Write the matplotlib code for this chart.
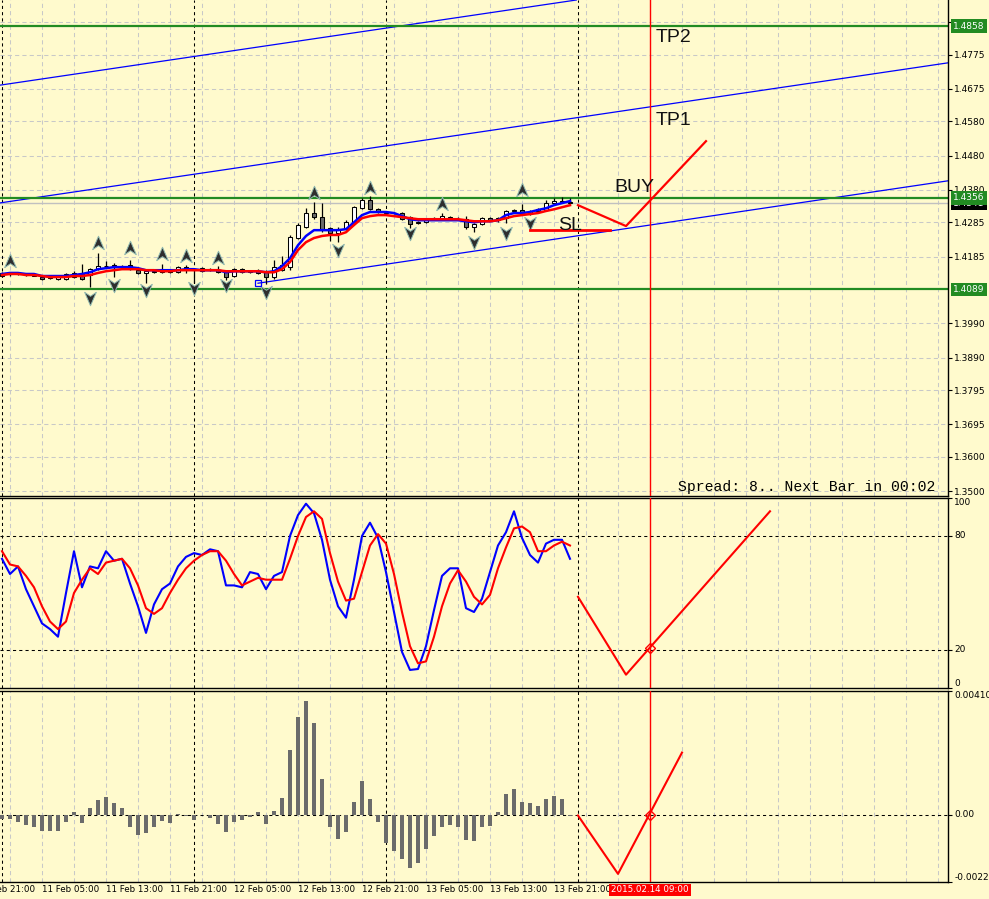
import matplotlib
matplotlib.use("Agg")
import matplotlib.pyplot as plt
import numpy as np
from matplotlib.path import Path
from matplotlib.transforms import blended_transform_factory

# ---- data (hours counted from 11 Feb 00:00, H1 bars) ----
opens = [1.4128, 1.4134, 1.4136, 1.4133, 1.4130, 1.4125, 1.4121, 1.4119, 1.4120, 1.4125,
         1.4134, 1.4131, 1.4148, 1.4157, 1.4160, 1.4154, 1.4160, 1.4145, 1.4138, 1.4143,
         1.4140, 1.4143, 1.4140, 1.4154, 1.4149, 1.4143, 1.4150, 1.4146, 1.4140, 1.4128,
         1.4148, 1.4141, 1.4143, 1.4143, 1.4125, 1.4146, 1.4154, 1.4239, 1.4271, 1.4312,
         1.4300, 1.4268, 1.4254, 1.4265, 1.4286, 1.4327, 1.4350, 1.4324, 1.4315, 1.4312,
         1.4312, 1.4300, 1.4283, 1.4286, 1.4294, 1.4297, 1.4300, 1.4294, 1.4294, 1.4271,
         1.4280, 1.4297, 1.4291, 1.4297, 1.4318, 1.4321, 1.4309, 1.4318, 1.4321, 1.4341,
         1.4347, 1.4344]
highs = [1.4140, 1.4140, 1.4138, 1.4135, 1.4133, 1.4128, 1.4127, 1.4128, 1.4137, 1.4143,
         1.4163, 1.4151, 1.4195, 1.4172, 1.4166, 1.4160, 1.4175, 1.4148, 1.4146, 1.4146,
         1.4163, 1.4145, 1.4157, 1.4160, 1.4152, 1.4154, 1.4152, 1.4157, 1.4143, 1.4151,
         1.4151, 1.4146, 1.4148, 1.4146, 1.4175, 1.4186, 1.4248, 1.4283, 1.4327, 1.4344,
         1.4341, 1.4271, 1.4271, 1.4292, 1.4333, 1.4356, 1.4362, 1.4327, 1.4318, 1.4316,
         1.4315, 1.4303, 1.4289, 1.4297, 1.4300, 1.4312, 1.4303, 1.4300, 1.4303, 1.4283,
         1.4300, 1.4300, 1.4300, 1.4321, 1.4324, 1.4338, 1.4321, 1.4327, 1.4350, 1.4356,
         1.4359, 1.4356]
lows = [1.4125, 1.4128, 1.4131, 1.4128, 1.4127, 1.4117, 1.4118, 1.4116, 1.4117, 1.4122,
        1.4116, 1.4096, 1.4145, 1.4154, 1.4125, 1.4150, 1.4145, 1.4135, 1.4108, 1.4138,
        1.4137, 1.4137, 1.4137, 1.4137, 1.4107, 1.4140, 1.4144, 1.4137, 1.4116, 1.4125,
        1.4137, 1.4137, 1.4134, 1.4104, 1.4120, 1.4143, 1.4146, 1.4236, 1.4268, 1.4294,
        1.4256, 1.4230, 1.4227, 1.4262, 1.4283, 1.4324, 1.4321, 1.4312, 1.4309, 1.4308,
        1.4292, 1.4268, 1.4280, 1.4283, 1.4291, 1.4294, 1.4291, 1.4291, 1.4265, 1.4256,
        1.4277, 1.4288, 1.4286, 1.4283, 1.4312, 1.4306, 1.4306, 1.4315, 1.4318, 1.4338,
        1.4341, 1.4338]
closes = [1.4137, 1.4136, 1.4134, 1.4130, 1.4129, 1.4120, 1.4124, 1.4125, 1.4134, 1.4137,
          1.4119, 1.4148, 1.4157, 1.4158, 1.4154, 1.4157, 1.4148, 1.4138, 1.4143, 1.4140,
          1.4143, 1.4140, 1.4154, 1.4149, 1.4146, 1.4151, 1.4147, 1.4140, 1.4125, 1.4148,
          1.4140, 1.4143, 1.4137, 1.4125, 1.4154, 1.4160, 1.4242, 1.4277, 1.4312, 1.4300,
          1.4265, 1.4253, 1.4266, 1.4286, 1.4329, 1.4350, 1.4324, 1.4315, 1.4312, 1.4313,
          1.4295, 1.4280, 1.4286, 1.4294, 1.4297, 1.4303, 1.4294, 1.4296, 1.4271, 1.4280,
          1.4297, 1.4291, 1.4297, 1.4318, 1.4321, 1.4309, 1.4318, 1.4324, 1.4341, 1.4347,
          1.4344, 1.4341]

ma_fast = [1.4134, 1.4137, 1.4137, 1.4134, 1.4134, 1.4128, 1.4128, 1.4128, 1.4128, 1.4131,
           1.4134, 1.4139, 1.4148, 1.4151, 1.4154, 1.4154, 1.4154, 1.4151, 1.4145, 1.4145,
           1.4145, 1.4145, 1.4145, 1.4148, 1.4148, 1.4145, 1.4145, 1.4145, 1.4139, 1.4142,
           1.4142, 1.4142, 1.4142, 1.4139, 1.4142, 1.4157, 1.4180, 1.4218, 1.4245, 1.4262,
           1.4262, 1.4262, 1.4262, 1.4265, 1.4285, 1.4306, 1.4315, 1.4315, 1.4315, 1.4312,
           1.4303, 1.4294, 1.4291, 1.4291, 1.4291, 1.4291, 1.4291, 1.4291, 1.4288, 1.4285,
           1.4288, 1.4288, 1.4291, 1.4306, 1.4312, 1.4312, 1.4315, 1.4321, 1.4326, 1.4335,
           1.4341, 1.4347]
ma_slow = [1.4131, 1.4134, 1.4134, 1.4131, 1.4131, 1.4128, 1.4125, 1.4125, 1.4125, 1.4128,
           1.4128, 1.4131, 1.4137, 1.4142, 1.4145, 1.4148, 1.4148, 1.4148, 1.4145, 1.4145,
           1.4142, 1.4142, 1.4145, 1.4145, 1.4145, 1.4145, 1.4145, 1.4145, 1.4142, 1.4142,
           1.4142, 1.4142, 1.4142, 1.4139, 1.4139, 1.4148, 1.4169, 1.4204, 1.4227, 1.4239,
           1.4245, 1.4248, 1.4248, 1.4256, 1.4277, 1.4297, 1.4303, 1.4306, 1.4306, 1.4303,
           1.4300, 1.4297, 1.4294, 1.4294, 1.4294, 1.4294, 1.4294, 1.4294, 1.4291, 1.4288,
           1.4288, 1.4288, 1.4291, 1.4297, 1.4303, 1.4306, 1.4309, 1.4312, 1.4318, 1.4323,
           1.4329, 1.4335]

fractal_up_h = [1, 12, 16, 20, 23, 27, 39, 46, 55, 65]
fractal_up_p = [1.4172, 1.4224, 1.4210, 1.4192, 1.4186, 1.4180, 1.4370, 1.4385, 1.4338, 1.4379]
fractal_dn_h = [11, 14, 18, 24, 28, 33, 42, 51, 59, 63, 66]
fractal_dn_p = [1.4064, 1.4102, 1.4087, 1.4093, 1.4102, 1.4081, 1.4204, 1.4253, 1.4227, 1.4253, 1.4283]

stoch_k = [68, 60, 64, 52, 43, 34, 31, 27, 50, 72, 53, 64, 63, 72, 67, 68, 55, 43, 29, 44,
           52, 55, 64, 69, 71, 70, 73, 72, 54, 54, 53, 61, 60, 52, 59, 61, 80, 91, 97, 92,
           78, 57, 43, 37, 57, 80, 87, 79, 61, 40, 19, 9.5, 10, 22, 41, 59, 63, 63, 42, 40,
           47, 61, 75, 82, 93, 79, 70, 66, 76, 78, 78, 68]
stoch_d = [72, 65, 64, 59, 53, 43, 35, 31, 35, 50, 57, 63, 60, 66, 67, 68, 63, 54, 42, 39,
           42, 50, 57, 63, 67, 70, 72, 72, 67, 60, 54, 56, 58, 57, 57, 57, 68, 80, 90, 93,
           89, 71, 56, 46, 47, 61, 75, 81, 76, 60, 40, 22, 13, 14, 27, 43, 55, 62, 56, 48,
           44, 49, 63, 74, 84, 85, 82, 72, 72, 75, 77, 75]

osma = [-0.00014, -0.00014, -0.00023, -0.00033, -0.00042, -0.00053, -0.00053, -0.00053,
        -0.00023, 0.00008, -0.00027, 0.00021, 0.00050, 0.00058, 0.00040, 0.00021,
        -0.00042, -0.00067, -0.00060, -0.00040, -0.00020, -0.00029, 0.00001, -0.00005,
        -0.00017, 0.00000, -0.00012, -0.00032, -0.00059, -0.00023, -0.00017, -0.00009,
        0.00010, -0.00032, 0.00013, 0.00055, 0.00213, 0.00323, 0.00376, 0.00303,
        0.00117, -0.00040, -0.00082, -0.00059, 0.00043, 0.00110, 0.00053, -0.00026,
        -0.00095, -0.00120, -0.00149, -0.00179, -0.00160, -0.00115, -0.00070, -0.00040,
        -0.00033, -0.00040, -0.00085, -0.00089, -0.00040, -0.00037, 0.00007, 0.00070,
        0.00085, 0.00043, 0.00037, 0.00027, 0.00053, 0.00063, 0.00053, -0.00004]

# forecast zigzags drawn to the right of the last bar
proj_h = [72, 78, 88]
proj_price = [1.4335, 1.4274, 1.4522]
proj_sto_h = [72, 78, 96]
proj_sto = [48, 7, 93]
proj_osma_h = [72, 77, 85]
proj_osma = [-0.00003, -0.00197, 0.00206]
sl_h = [66, 76]
sl_price = 1.4262
signal_h = 81

level_prices = [1.4858, 1.4356, 1.4089]
level_labels = ["1.4858", "1.4356", "1.4089"]
bid_price = 1.4341

# equidistant channel: anchor hours and prices of three parallel lines
chan_h = [32, 96]
chan_low = [1.4107, 1.4329]
chan_mid = [1.4453, 1.4674]
chan_high = [1.4797, 1.5018]

price_ticks = [1.4870, 1.4775, 1.4675, 1.4580, 1.4480, 1.4380, 1.4285, 1.4185,
               1.3990, 1.3890, 1.3795, 1.3695, 1.3600, 1.3500]
time_label_h = [-3, 5, 13, 21, 29, 37, 45, 53, 61, 69]
time_labels = ["10 Feb 21:00", "11 Feb 05:00", "11 Feb 13:00", "11 Feb 21:00",
               "12 Feb 05:00", "12 Feb 13:00", "12 Feb 21:00", "13 Feb 05:00",
               "13 Feb 13:00", "13 Feb 21:00"]
day_sep_h = [0, 24, 48, 72]
grid_h = np.arange(1, 118, 4)

# ---- style ----
BG = "#FFFACD"
GREEN = "#228B22"
GRID = "#c8c8c8"
W, H = 989, 899
XMIN, XMAX = -0.25, 118.25

fig = plt.figure(figsize=(W / 100, H / 100), dpi=100, facecolor=BG)


def px_axes(top, bottom):
    ax = fig.add_axes([0, (H - bottom) / H, 948 / W, (bottom - top) / H], facecolor=BG)
    ax.set_xlim(XMIN, XMAX)
    ax.set_xticks([])
    ax.spines["left"].set_visible(False)
    for s in ("right", "bottom", "top"):
        ax.spines[s].set_color("black")
        ax.spines[s].set_linewidth(1.0)
    ax.yaxis.tick_right()
    ax.tick_params(axis="y", length=3, width=0.8, pad=1.5, labelsize=6.5,
                   colors="black")
    for g in grid_h:
        ax.axvline(g, color=GRID, lw=0.75, ls=(0, (4, 3)), zorder=0)
    for d in day_sep_h:
        ax.axvline(d, color="black", lw=0.75, ls=(0, (3, 3)), zorder=1)
    ax.axvline(signal_h, color="red", lw=1.0, zorder=6)
    return ax


ax_main = px_axes(0, 496)
ax_sto = px_axes(498, 688)
ax_osma = px_axes(691, 882)
ax_main.spines["top"].set_visible(False)

# ---- main price panel ----
ax_main.set_ylim(1.34854, 1.49344)
ax_main.set_yticks(price_ticks)
ax_main.set_yticklabels([f"{t:.4f}" for t in price_ticks])
for t in price_ticks:
    ax_main.axhline(t, color=GRID, lw=0.75, ls=(0, (4, 3)), zorder=0)

hours = np.arange(len(closes))
o = np.array(opens)
c = np.array(closes)
up = c >= o
ax_main.vlines(hours, lows, highs, color="black", lw=0.9, zorder=3)
body_bottom = np.minimum(o, c)
body_height = np.maximum(np.abs(c - o), 0.00002)
ax_main.bar(hours, body_height, bottom=body_bottom, width=0.62,
            color=np.where(up, "white", "#6a6a6a"), edgecolor="black",
            linewidth=0.75, zorder=4)

ax_main.plot(hours, ma_fast, color="blue", lw=1.8, zorder=5)
ax_main.plot(hours, ma_slow, color="red", lw=1.8, zorder=5)

up_arrow = Path([(0, 1), (0.8, -0.85), (0, -0.3), (-0.8, -0.85), (0, 1)],
                [Path.MOVETO, Path.LINETO, Path.LINETO, Path.LINETO, Path.CLOSEPOLY])
dn_arrow = Path([(0, -1), (0.8, 0.85), (0, 0.3), (-0.8, 0.85), (0, -1)],
                [Path.MOVETO, Path.LINETO, Path.LINETO, Path.LINETO, Path.CLOSEPOLY])
ax_main.scatter(fractal_up_h, fractal_up_p, marker=up_arrow, s=110,
                facecolor="#2e2e2e", edgecolor="#8fb8b0", linewidth=0.7, zorder=6)
ax_main.scatter(fractal_dn_h, fractal_dn_p, marker=dn_arrow, s=110,
                facecolor="#2e2e2e", edgecolor="#8fb8b0", linewidth=0.7, zorder=6)

# channel
ax_main.axline((chan_h[0], chan_mid[0]), (chan_h[1], chan_mid[1]), color="blue", lw=0.9, zorder=2)
ax_main.axline((chan_h[0], chan_high[0]), (chan_h[1], chan_high[1]), color="blue", lw=0.9, zorder=2)
slope = (chan_low[1] - chan_low[0]) / (chan_h[1] - chan_h[0])
ax_main.plot([chan_h[0], XMAX], [chan_low[0], chan_low[0] + slope * (XMAX - chan_h[0])],
             color="blue", lw=0.9, zorder=2)
ax_main.plot(chan_h[0], chan_low[0], marker="s", ms=4, mfc="none", mec="blue", mew=0.9, zorder=6)

# horizontal levels
ax_main.axhline(bid_price, color="#c0c0c0", lw=1.0, zorder=1)
lab_tr = blended_transform_factory(ax_main.transAxes, ax_main.transData)
ax_main.text(1.0055, bid_price, f"{bid_price:.4f}", transform=lab_tr, fontsize=6.5,
             color="white", va="center", ha="left", zorder=9, clip_on=False,
             bbox=dict(boxstyle="square,pad=0.25", fc="black", ec="none"))
for p, lab in zip(level_prices, level_labels):
    ax_main.axhline(p, color=GREEN, lw=1.6, zorder=2)
    ax_main.text(1.0055, p, lab, transform=lab_tr, fontsize=6.5, color="white",
                 va="center", ha="left", zorder=10, clip_on=False,
                 bbox=dict(boxstyle="square,pad=0.25", fc=GREEN, ec="none"))

# forecast and stop loss
ax_main.plot(proj_h, proj_price, color="red", lw=1.6, zorder=6)
ax_main.plot(sl_h, [sl_price, sl_price], color="red", lw=2.0, zorder=6)

txt = dict(fontsize=14, family="Liberation Sans", color="#111111", va="center", ha="left", zorder=8)
ax_main.text(81.75, 1.4826, "TP2", **txt)
ax_main.text(81.75, 1.4583, "TP1", **txt)
ax_main.text(76.5, 1.4388, "BUY", **txt)
ax_main.text(69.5, 1.4277, "SL", **txt)
ax_main.text(0.7152, 0.018, "Spread: 8.. Next Bar in 00:02", transform=ax_main.transAxes,
             fontsize=10.6, family="Liberation Mono", color="black", va="center", ha="left")

# ---- stochastic panel ----
ax_sto.set_ylim(0, 100)
ax_sto.set_yticks([100, 80, 20, 0])
ax_sto.set_yticklabels(["100", "80", "20", "0"])
for lab, va in zip(ax_sto.get_yticklabels(), ["top", "center", "center", "bottom"]):
    lab.set_verticalalignment(va)
for lvl in (80, 20):
    ax_sto.axhline(lvl, color="black", lw=0.75, ls=(0, (3, 3)), zorder=1)
ax_sto.plot(hours, stoch_k, color="blue", lw=1.5, zorder=4)
ax_sto.plot(hours, stoch_d, color="red", lw=1.5, zorder=5)
ax_sto.plot(proj_sto_h, proj_sto, color="red", lw=1.5, zorder=5)
ax_sto.plot(signal_h, 21, marker="D", ms=5, mfc="none", mec="red", mew=1.0, zorder=7)

# ---- OsMA histogram panel ----
ax_osma.set_ylim(-0.00224, 0.004106)
ax_osma.set_yticks([0.004106, 0.0, -0.00224])
ax_osma.set_yticklabels(["0.004106", "0.00", "-0.00224"])
for lab, va in zip(ax_osma.get_yticklabels(), ["top", "center", "bottom"]):
    lab.set_verticalalignment(va)
ax_osma.axhline(0, color="black", lw=0.75, ls=(0, (3, 3)), zorder=1)
ax_osma.bar(hours, osma, width=0.62, color="#6b6b6b", zorder=3)
ax_osma.plot(proj_osma_h, proj_osma, color="red", lw=1.5, zorder=5)
ax_osma.plot(signal_h, 0.0, marker="D", ms=5, mfc="none", mec="red", mew=1.0, zorder=7)

time_tr = blended_transform_factory(ax_osma.transData, ax_osma.transAxes)
for h, lab in zip(time_label_h, time_labels):
    ax_osma.text(h, -0.018, lab, transform=time_tr, fontsize=6.3, ha="left", va="top",
                 color="black", clip_on=False)
ax_osma.text(signal_h, -0.018, "2015.02.14 09:00", transform=time_tr, fontsize=6.3,
             ha="center", va="top", color="white", clip_on=False, zorder=10,
             bbox=dict(boxstyle="square,pad=0.2", fc="red", ec="none"))

fig.savefig("out.png", dpi=100, facecolor=BG)
